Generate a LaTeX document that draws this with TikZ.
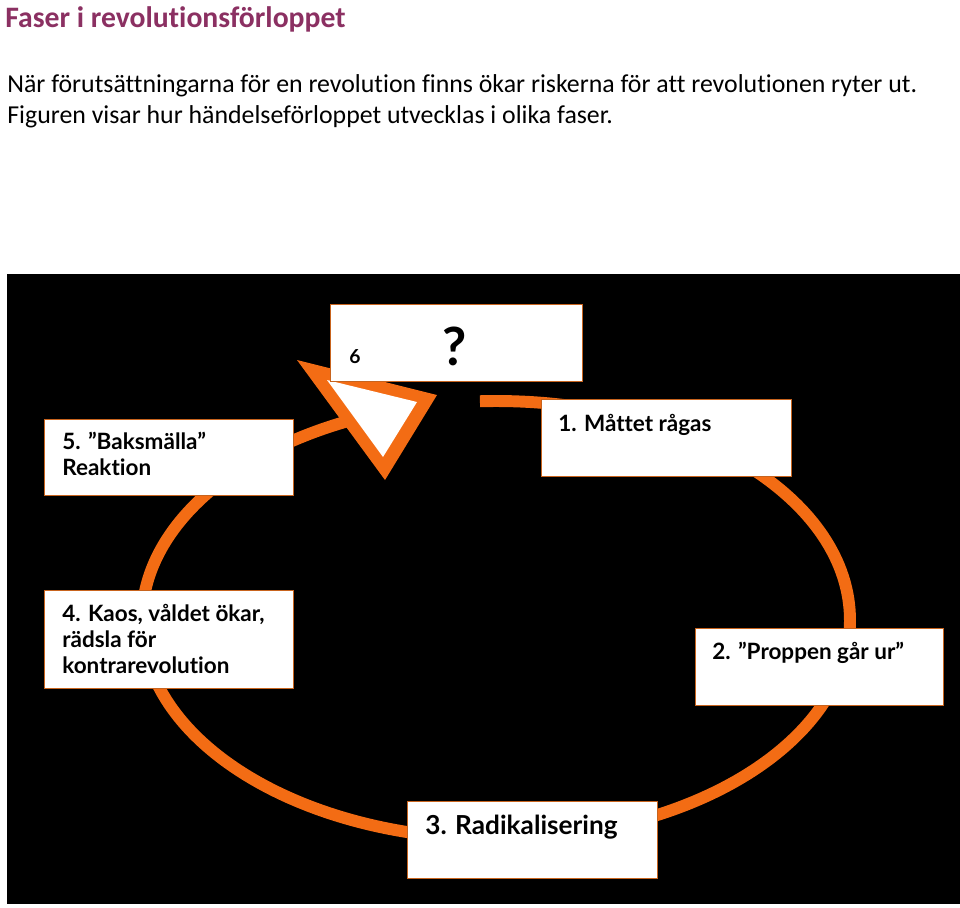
\documentclass[tikz,border=0pt]{standalone}
\usepackage{fontspec}
\setmainfont{Carlito}[Ligatures=CommonOff]
\newfontfamily\boxfont{Lato}[Ligatures=CommonOff]
\usetikzlibrary{positioning}
\definecolor{titleplum}{HTML}{8B3062}
\definecolor{ringorange}{HTML}{F36C14}
\definecolor{boxedge}{HTML}{C8641E}

\begin{document}
\begin{tikzpicture}[x=0.02cm, y=-0.02cm,
  phase/.style={
    draw=boxedge, line width=0.8pt, fill=white,
    inner sep=0pt, anchor=north west
  },
  txt/.style={
    inner sep=0pt, anchor=north west, align=left,
    font=\boxfont\bfseries\fontsize{12.8}{14.7}\selectfont
  },
  ring/.style={draw=ringorange, line width=6.8pt},
  body/.style={inner sep=0pt, anchor=base west,
    font=\fontsize{14.7}{17.6}\selectfont}
]
\useasboundingbox[fill=white] (0,0) rectangle (960,907);

% Heading and intro
\node[anchor=base west, inner sep=0pt, text=titleplum,
  font=\bfseries\fontsize{16.9}{20}\selectfont] (title) at (5,27)
  {Faser i revolutionsförloppet};
\node[body] (intro1) at (7,92)
  {När förutsättningarna för en revolution finns ökar riskerna för att revolutionen ryter ut.};
\node[body] (intro2) at (7,123)
  {Figuren visar hur händelseförloppet utvecklas i olika faser.};

% Black panel
\fill[black] (7,274) rectangle (960,904);

% The cycle
\coordinate (ctr) at (496,620);
\draw[ring] (ctr) ++(267.4:354 and 219)
  arc[start angle=267.4, end angle=606, x radius=354, y radius=219];

% Arrow head (open triangle)
\fill[ringorange] (297,360) -- (437,395) -- (385,480) -- cycle;
\fill[white] (327,380) -- (417,402) -- (383,457) -- cycle;

% Phase boxes
\node[phase, minimum width=50.4mm, minimum height=15.4mm] (p6) at (330,304) {};
\node[phase, minimum width=50mm, minimum height=15.4mm] (p1) at (541,399) {};
\node[phase, minimum width=49.8mm, minimum height=15.2mm] (p5) at (44,419) {};
\node[phase, minimum width=49.8mm, minimum height=19.6mm] (p4) at (44,590) {};
\node[phase, minimum width=49.6mm, minimum height=15.4mm] (p2) at (695,628) {};
\node[phase, minimum width=50mm, minimum height=15.4mm] (p3) at (407,801) {};

% Phase texts
\node[txt, font=\boxfont\bfseries\fontsize{11}{13}\selectfont,
  below right=9mm and 3.8mm of p6.north west] (t6) {6};
\node[txt, font=\boxfont\bfseries\fontsize{30}{32}\selectfont,
  below right=4.6mm and 22.4mm of p6.north west] (q6) {?};
\node[txt, below right=3mm and 3.4mm of p1.north west] (t1) {1. Måttet rågas};
\node[txt, below right=2.6mm and 3.6mm of p5.north west] (t5)
  {5. ”Baksmälla”\\Reaktion};
\node[txt, below right=2.8mm and 3.6mm of p4.north west] (t4)
  {4. Kaos, våldet ökar,\\rädsla för\\kontrarevolution};
\node[txt, below right=2.8mm and 3.4mm of p2.north west] (t2) {2. ”Proppen går ur”};
\node[txt, font=\boxfont\bfseries\fontsize{14.9}{17}\selectfont,
  below right=2.8mm and 3.6mm of p3.north west] (t3) {3. Radikalisering};

\end{tikzpicture}
\end{document}
